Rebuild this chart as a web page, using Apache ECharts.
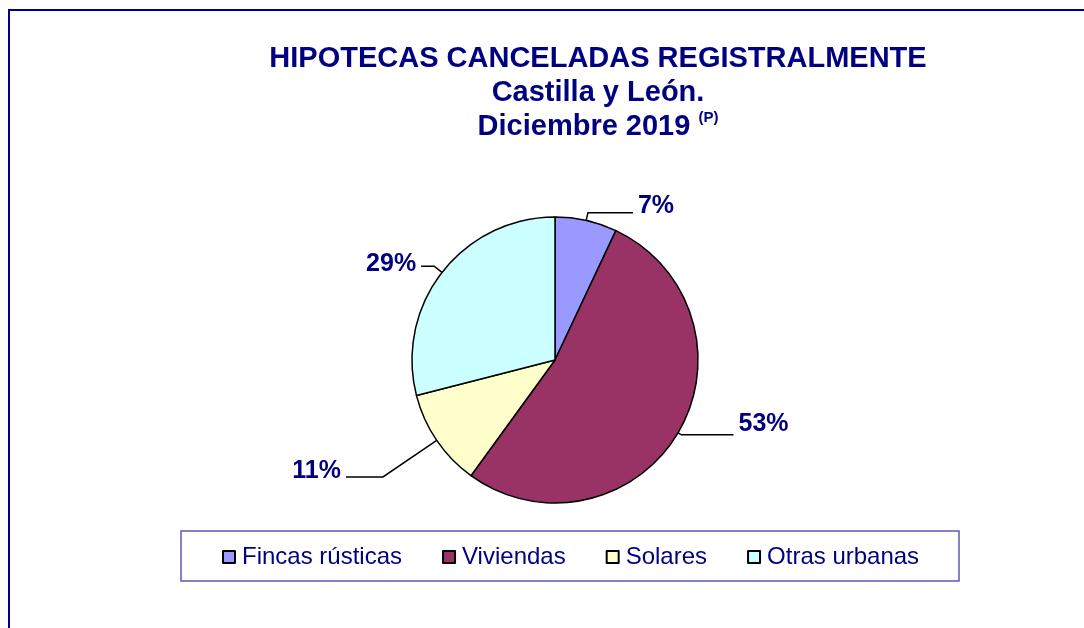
<!DOCTYPE html>
<html>
<head>
<meta charset="utf-8">
<script src="https://cdn.jsdelivr.net/npm/echarts@6/dist/echarts.min.js"></script>
<style>
  html, body { margin: 0; padding: 0; background: #fff; }
  #chart { width: 1084px; height: 628px; }
</style>
</head>
<body>
<div id="chart"></div>
<script>
  // datos
  const categorias = ['Fincas rústicas', 'Viviendas', 'Solares', 'Otras urbanas'];
  const valores = [7, 53, 11, 29];
  const colores = ['#9999FF', '#993366', '#FFFFCC', '#CCFFFF'];
  // largo de las guias de etiqueta por sector y desplazamiento vertical del texto
  const guias = [[8, 45], [4, 52], [65, 37], [10, 13]];
  const subir = [14, 22, 12, 4];

  const navy = '#000080';
  const myChart = echarts.init(document.getElementById('chart'));

  myChart.setOption({
    animation: false,
    textStyle: { fontFamily: 'Liberation Sans, Arial, sans-serif' },
    title: {
      text: 'HIPOTECAS CANCELADAS REGISTRALMENTE\nCastilla y León.\nDiciembre 2019 {sup|(P)}',
      left: 598,
      top: 42,
      textAlign: 'center',
      padding: 0,
      textStyle: {
        color: navy,
        fontSize: 29,
        fontWeight: 'bold',
        lineHeight: 34,
        rich: {
          sup: { fontSize: 15, fontWeight: 'bold', color: navy, verticalAlign: 'top', lineHeight: 34, padding: [0, 0, 12, 0] }
        }
      }
    },
    legend: {
      data: categorias,
      left: 222,
      top: 545,
      padding: 0,
      itemWidth: 12,
      itemHeight: 12,
      itemGap: 40,
      icon: 'rect',
      itemStyle: { borderColor: '#000', borderWidth: 2 },
      textStyle: { color: navy, fontSize: 24, padding: [0, 0, 0, 2] }
    },
    graphic: [
      // marco exterior
      { type: 'rect', shape: { x: 9, y: 10, width: 1100, height: 700 },
        style: { fill: 'none', stroke: '#000090', lineWidth: 2 }, silent: true },
      // caja de la leyenda
      { type: 'rect', shape: { x: 181, y: 531, width: 778, height: 50 },
        style: { fill: 'none', stroke: '#5b5bb3', lineWidth: 1.5 }, silent: true, z: -1 }
    ],
    series: [{
      type: 'pie',
      center: [555, 360],
      radius: 143,
      startAngle: 90,
      clockwise: true,
      itemStyle: { borderColor: '#000', borderWidth: 1.5 },
      label: {
        show: true,
        color: navy,
        fontSize: 25,
        fontWeight: 'bold'
      },
      labelLine: { show: true, lineStyle: { color: '#000', width: 1.5 } },
      emphasis: { disabled: true },
      data: categorias.map((c, i) => ({
        name: c,
        value: valores[i],
        itemStyle: { color: colores[i] },
        label: {
          formatter: '{t|{d}%}',
          rich: { t: { color: navy, fontSize: 25, fontWeight: 'bold', padding: [0, 0, subir[i], 0] } }
        },
        labelLine: { length: guias[i][0], length2: guias[i][1] }
      }))
    }]
  });
</script>
</body>
</html>
